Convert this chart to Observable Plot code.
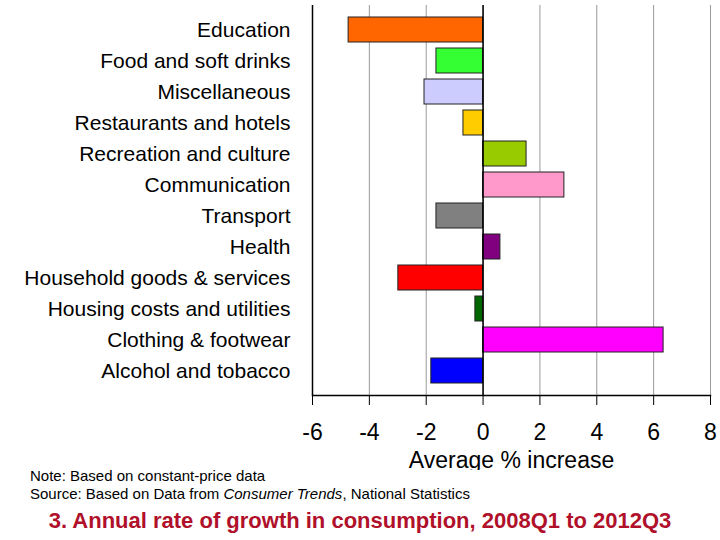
<!DOCTYPE html>
<html><head><meta charset="utf-8">
<script src="https://cdn.jsdelivr.net/npm/d3@7"></script>
<script src="https://cdn.jsdelivr.net/npm/@observablehq/plot@0.6"></script>
<style>
body{margin:0;background:#fff;font-family:"Liberation Sans",Arial,sans-serif;}
#notes{position:absolute;left:30px;top:467px;font-size:15px;line-height:18px;color:#000}
#title{position:absolute;left:0;width:720px;top:508px;text-align:center;font-size:22px;font-weight:bold;color:#B0102A}
#chart{position:absolute;left:0;top:0}
</style></head><body>
<div id="chart"></div>
<div id="notes">Note: Based on constant-price data<br>Source: Based on Data from <i>Consumer Trends</i>, National Statistics</div>
<div id="title">3. Annual rate of growth in consumption, 2008Q1 to 2012Q3</div>
<script>
const categories = ["Education","Food and soft drinks","Miscellaneous","Restaurants and hotels","Recreation and culture","Communication","Transport","Health","Household goods & services","Housing costs and utilities","Clothing & footwear","Alcohol and tobacco"];
const values = [-4.73,-1.64,-2.06,-0.69,1.53,2.86,-1.64,0.61,-2.98,-0.27,6.35,-1.82];
const colors = ["#FF6600","#33FF33","#CCCCFF","#FFCC00","#99CC00","#FF99CC","#808080","#800080","#FF0000","#006600","#FF00FF","#0000FF"];
const xTicks = [-6,-4,-2,0,2,4,6,8];
const data = categories.map((c,i)=>({c,v:values[i],col:colors[i]}));
const chart = Plot.plot({
  width:720,height:470,marginLeft:312,marginRight:10,marginTop:5,marginBottom:75,
  style:{fontFamily:"'Liberation Sans', Arial, sans-serif",fontSize:"20px",color:"#000"},
  x:{domain:[-6,8]},
  y:{domain:categories,padding:0.2,label:null},
  marks:[
    Plot.gridX(xTicks,{stroke:"#999",strokeOpacity:1}),
    Plot.barX(data,{x:"v",y:"c",fill:"col",stroke:"#222",strokeWidth:1}),
    Plot.ruleX([0],{stroke:"#000",strokeWidth:1.5}),
    Plot.ruleX([-6],{stroke:"#000",strokeWidth:1.5}),
    Plot.axisY({tickSize:0,tickPadding:22,fontSize:21,label:null}),
    Plot.axisX({ticks:xTicks,tickFormat:d=>d<0?"-"+Math.abs(d):d,tickSize:10,tickPadding:18,fontSize:23,stroke:"#000",label:"Average % increase",labelAnchor:"center",labelArrow:"none",labelOffset:72}),
    Plot.frame({anchor:"bottom",stroke:"#000",strokeWidth:1.5})
  ]
});
document.getElementById("chart").appendChild(chart);
</script></body></html>
